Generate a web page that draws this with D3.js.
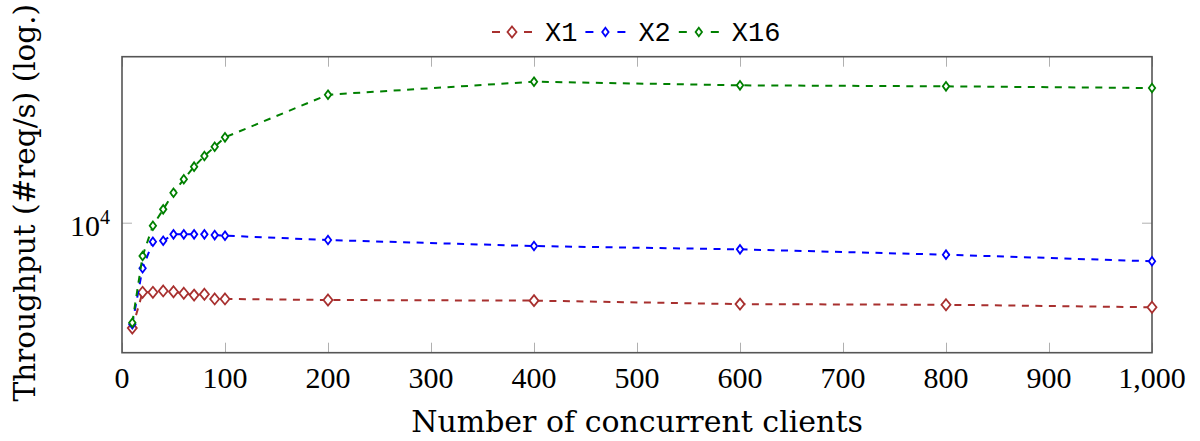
<!DOCTYPE html>
<html>
<head>
<meta charset="utf-8">
<script src="https://cdn.jsdelivr.net/npm/d3@7"></script>
<style>
  body { margin: 0; background: #fff; }
  svg { display: block; }
</style>
</head>
<body>
<svg width="1200" height="441"></svg>
<script>
// data
var clients = [10, 20, 30, 40, 50, 60, 70, 80, 90, 100, 200, 400, 600, 800, 1000];
var x1Values = [3090, 4610, 4610, 4680, 4640, 4560, 4470, 4510, 4280, 4280, 4230, 4200, 4040, 4010, 3900];
var x2Values = [3230, 6030, 8110, 8200, 8810, 8810, 8810, 8810, 8740, 8680, 8270, 7730, 7450, 7020, 6520];
var x16Values = [3280, 6920, 9700, 11650, 14030, 16300, 18770, 21140, 23460, 26060, 41960, 48520, 46600, 46080, 45210];
var seriesNames = ['X1', 'X2', 'X16'];
var xTicks = [0, 100, 200, 300, 400, 500, 600, 700, 800, 900, 1000];
var yTicks = [10000];

var svg = d3.select('svg');
var svgWidth = +svg.attr('width');
var svgHeight = +svg.attr('height');

var padding = {t: 56.7, r: 48, b: 88.3, l: 122};
var chartWidth = svgWidth - padding.l - padding.r;
var chartHeight = svgHeight - padding.t - padding.b;

var serifFont = '"Liberation Serif", "DejaVu Serif", serif';
var titleFont = '"DejaVu Serif", "Liberation Serif", serif';
var monoFont = '"Liberation Mono", "DejaVu Sans Mono", monospace';

var series = [
  {name: seriesNames[0], values: x1Values, color: '#a8302f', hw: 4.5, hh: 5.5},
  {name: seriesNames[1], values: x2Values, color: '#0000ff', hw: 3.2, hh: 4.3},
  {name: seriesNames[2], values: x16Values, color: '#008000', hw: 3.2, hh: 4.3}
];

var xScale = d3.scaleLinear()
    .domain([0, 1000])
    .range([0, chartWidth]);

var yScale = d3.scaleLog()
    .domain([2347, 64170])
    .range([chartHeight, 0]);

var chartG = svg.append('g')
    .attr('transform', 'translate(' + [padding.l, padding.t] + ')');

// ticks point inwards, on all four sides
var tickLen = 10;
var tickG = chartG.append('g').attr('class', 'ticks')
    .attr('stroke', '#b0b0b0')
    .attr('stroke-width', 1);

xTicks.forEach(function(t) {
  var px = Math.round(xScale(t)) + 0.5;
  tickG.append('line').attr('x1', px).attr('x2', px)
      .attr('y1', chartHeight).attr('y2', chartHeight - tickLen);
  tickG.append('line').attr('x1', px).attr('x2', px)
      .attr('y1', 0).attr('y2', tickLen);
});
yTicks.forEach(function(t) {
  var py = Math.round(yScale(t)) + 0.5;
  tickG.append('line').attr('x1', 0).attr('x2', tickLen)
      .attr('y1', py).attr('y2', py);
  tickG.append('line').attr('x1', chartWidth).attr('x2', chartWidth - tickLen)
      .attr('y1', py).attr('y2', py);
});

// frame
chartG.append('rect')
    .attr('x', 0).attr('y', 0)
    .attr('width', chartWidth).attr('height', chartHeight)
    .attr('fill', 'none')
    .attr('stroke', '#555')
    .attr('stroke-width', 1.6);

// x tick labels
var fmt = d3.format(',');
chartG.append('g').selectAll('text')
    .data(xTicks)
    .enter()
    .append('text')
    .attr('x', function(d) { return xScale(d); })
    .attr('y', chartHeight + 35)
    .attr('text-anchor', 'middle')
    .style('font-family', serifFont)
    .style('font-size', '30px')
    .text(function(d) { return fmt(d); });

// y tick label 10^4
yTicks.forEach(function(t) {
  var lbl = chartG.append('text')
      .attr('x', -12)
      .attr('y', yScale(t) + 13)
      .attr('text-anchor', 'end')
      .style('font-family', serifFont)
      .style('font-size', '30px');
  lbl.append('tspan').text('10');
  lbl.append('tspan')
      .attr('dy', -12)
      .style('font-size', '20px')
      .text(String(Math.round(Math.log10(t))));
});

// axis titles
svg.append('text')
    .attr('x', padding.l + chartWidth / 2)
    .attr('y', 432)
    .attr('text-anchor', 'middle')
    .style('font-family', titleFont)
    .style('font-size', '30px')
    .text('Number of concurrent clients');

svg.append('text')
    .attr('transform', 'translate(35,' + (padding.t + chartHeight / 2 - 2) + ') rotate(-90)')
    .attr('text-anchor', 'middle')
    .style('font-family', titleFont)
    .style('font-size', '29.5px')
    .text('Throughput (#req/s) (log.)');

function diamond(hw, hh) {
  return 'M0,' + (-hh) + 'L' + hw + ',0L0,' + hh + 'L' + (-hw) + ',0Z';
}

var line = d3.line()
    .x(function(d) { return xScale(d[0]); })
    .y(function(d) { return yScale(d[1]); });

series.forEach(function(s) {
  var pts = clients.map(function(c, i) { return [c, s.values[i]]; });
  var g = chartG.append('g').attr('class', 'series');
  g.append('path')
      .datum(pts)
      .attr('d', line)
      .attr('fill', 'none')
      .attr('stroke', s.color)
      .attr('stroke-width', 2)
      .attr('stroke-dasharray', '7,6.5');
  g.selectAll('path.mark')
      .data(pts)
      .enter()
      .append('path')
      .attr('class', 'mark')
      .attr('transform', function(d) {
        return 'translate(' + [xScale(d[0]), yScale(d[1])] + ')';
      })
      .attr('d', diamond(s.hw, s.hh))
      .attr('fill', '#fff')
      .attr('stroke', s.color)
      .attr('stroke-width', 1.8);
});

// legend on top
var legendG = svg.append('g').attr('class', 'legend');
var lx = 492, ly = 32;
series.forEach(function(s) {
  legendG.append('line')
      .attr('x1', lx).attr('x2', lx + 40)
      .attr('y1', ly).attr('y2', ly)
      .attr('stroke', s.color)
      .attr('stroke-width', 2)
      .attr('stroke-dasharray', '8,24');
  legendG.append('path')
      .attr('transform', 'translate(' + [lx + 20, ly] + ')')
      .attr('d', diamond(s.hw, s.hh))
      .attr('fill', '#fff')
      .attr('stroke', s.color)
      .attr('stroke-width', 1.8);
  var t = legendG.append('text')
      .attr('x', lx + 53)
      .attr('y', ly + 9)
      .style('font-family', monoFont)
      .style('font-size', '27px')
      .text(s.name);
  lx = lx + 53 + t.node().getComputedTextLength() + 8;
});
</script>
</body>
</html>
